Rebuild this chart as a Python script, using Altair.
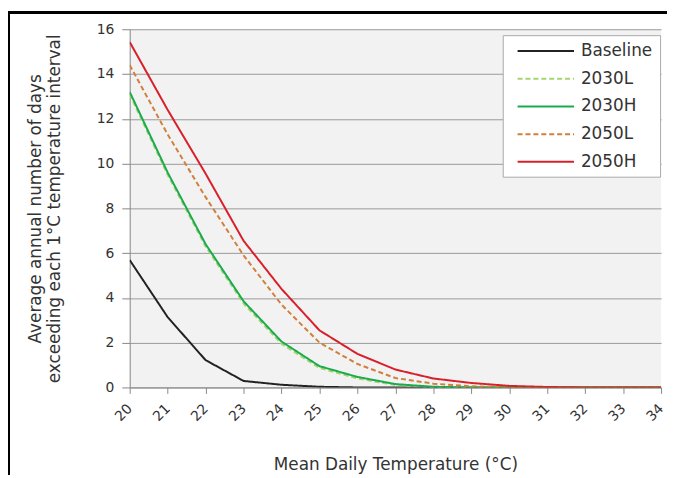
import altair as alt
import pandas as pd

temps = list(range(20, 35))
series_names = ["Baseline", "2030L", "2030H", "2050L", "2050H"]
baseline = [5.69, 3.14, 1.22, 0.29, 0.12, 0.03, 0, 0, 0, 0, 0, 0, 0, 0, 0]
l2030 = [13.1, 9.5, 6.3, 3.75, 1.95, 0.87, 0.40, 0.11, 0.02, 0, 0, 0, 0, 0, 0]
h2030 = [13.2, 9.6, 6.4, 3.85, 2.05, 0.95, 0.47, 0.15, 0.03, 0, 0, 0, 0, 0, 0]
l2050 = [14.4, 11.3, 8.5, 5.9, 3.7, 2.0, 1.05, 0.42, 0.17, 0.05, 0.01, 0, 0, 0, 0]
h2050 = [15.43, 12.4, 9.55, 6.55, 4.4, 2.55, 1.5, 0.8, 0.4, 0.2, 0.07, 0.02, 0, 0, 0]

colors = ["#222222", "#a6d46e", "#1aab4f", "#d0803a", "#d8202a"]
dashes = [[1, 0], [5, 3], [1, 0], [5, 3], [1, 0]]

rows = []
for name, vals in zip(series_names, [baseline, l2030, h2030, l2050, h2050]):
    for t, v in zip(temps, vals):
        rows.append({"series": name, "temp": t, "value": v})
df = pd.DataFrame(rows)

FONT = "DejaVu Sans"
TXT = "#333333"

lines = alt.Chart(df).mark_line(strokeWidth=2, clip=True).encode(
    x=alt.X("temp:Q",
            scale=alt.Scale(domain=[20, 34], nice=False, zero=False),
            axis=alt.Axis(values=temps, title="Mean Daily Temperature (°C)",
                          labelAngle=-45, labelAlign="right", labelBaseline="middle",
                          labelPadding=13, tickSize=6, grid=False,
                          titlePadding=33, titleFontSize=17)),
    y=alt.Y("value:Q",
            scale=alt.Scale(domain=[0, 16], nice=False),
            axis=alt.Axis(values=list(range(0, 17, 2)),
                          title=["Average annual number of days",
                                 "exceeding each 1°C temperature interval"],
                          tickSize=8, labelPadding=8, grid=True,
                          titlePadding=33, titleFontSize=17, titleLineHeight=19)),
    color=alt.Color("series:N",
                    scale=alt.Scale(domain=series_names, range=colors),
                    legend=alt.Legend(title=None, orient="none", legendX=377, legendY=6,
                                      symbolType="M-0.125,0H7", symbolSize=256,
                                      symbolStrokeWidth=2, rowPadding=11,
                                      labelFontSize=17, labelOffset=54,
                                      padding=7, fillColor="white",
                                      strokeColor="#aaaaaa")),
    strokeDash=alt.StrokeDash("series:N",
                              scale=alt.Scale(domain=series_names, range=dashes),
                              legend=None),
    order=alt.Order("ord:Q"),
).transform_calculate(
    ord="indexof(['Baseline','2030L','2030H','2050L','2050H'], datum.series)"
)

border_left = alt.Chart(df).mark_rule(color="black", strokeWidth=2).encode(
    x=alt.value(-122), y=alt.value(-17), y2=alt.value(470))
border_top = alt.Chart(df).mark_rule(color="black", strokeWidth=2).encode(
    x=alt.value(-123), x2=alt.value(545), y=alt.value(-17))

chart = alt.layer(lines, border_left, border_top).properties(
    width=537, height=362,
    padding={"left": 123, "top": 19, "right": 6, "bottom": 86},
    autosize="none",
    background="white",
).configure_view(
    fill="#f2f2f2", stroke=None
).configure_axis(
    labelFont=FONT, titleFont=FONT, labelFontSize=14, labelColor=TXT, titleColor=TXT,
    titleFontWeight="normal", domainColor="#888888", tickColor="#888888",
    gridColor="#999999", gridWidth=1
).configure_legend(
    labelFont=FONT, labelColor=TXT
)

chart.save("out.html", embed_options={"renderer": "svg", "actions": False})
